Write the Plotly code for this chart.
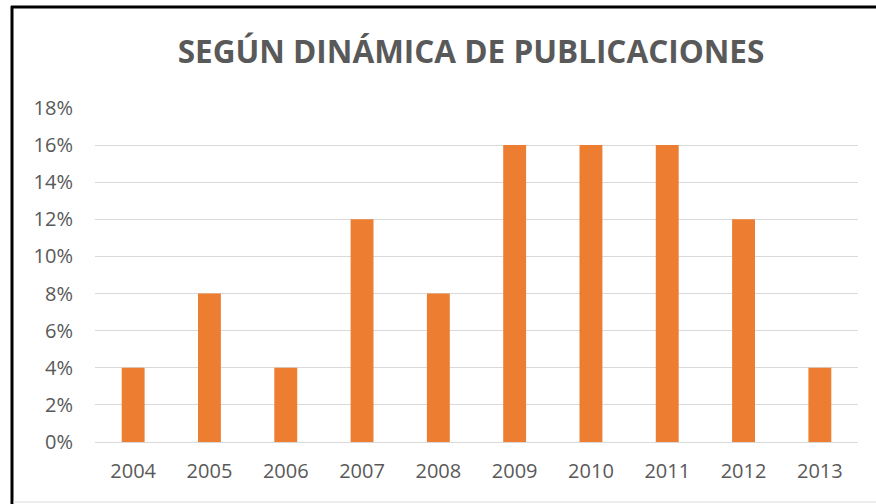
import plotly.graph_objects as go

years = ["2004", "2005", "2006", "2007", "2008", "2009", "2010", "2011", "2012", "2013"]
shares = [0.04, 0.08, 0.04, 0.12, 0.08, 0.16, 0.16, 0.16, 0.12, 0.04]
y_ticks = [0, 0.02, 0.04, 0.06, 0.08, 0.10, 0.12, 0.14, 0.16, 0.18]

W, H = 876, 504
ML, MR, MT, MB = 95, 18, 108, 62
pw, ph = W - ML - MR, H - MT - MB


def px_x(x):
    return (x - ML) / pw


def px_y(y):
    return (H - MB - y) / ph


fig = go.Figure()
fig.add_trace(go.Bar(
    x=years, y=shares,
    marker=dict(color="#ED7D31", line=dict(width=0)),
    width=0.3,
    hoverinfo="x+y",
))

# black frame on left and top, faint one at the bottom
fig.add_shape(type="line", xref="paper", yref="paper",
              x0=px_x(12), x1=px_x(12), y0=px_y(6), y1=px_y(504),
              line=dict(color="black", width=3))
fig.add_shape(type="line", xref="paper", yref="paper",
              x0=px_x(11), x1=px_x(876), y0=px_y(7), y1=px_y(7),
              line=dict(color="black", width=3))
fig.add_shape(type="line", xref="paper", yref="paper",
              x0=px_x(13), x1=px_x(876), y0=px_y(502), y1=px_y(502),
              line=dict(color="#D9D9D9", width=1))

fig.update_layout(
    width=W, height=H,
    margin=dict(l=ML, r=MR, t=MT, b=MB),
    paper_bgcolor="white",
    plot_bgcolor="white",
    showlegend=False,
    title=dict(text="<b>SEGÚN DINÁMICA DE PUBLICACIONES</b>",
               x=471 / W, xanchor="center", y=1 - 52 / H, yanchor="middle",
               font=dict(family="Open Sans", size=31.5, color="#595959")),
    font=dict(family="Open Sans", color="#595959", size=19),
)
fig.update_xaxes(showgrid=False, showline=True, linecolor="#D9D9D9", linewidth=1,
                 ticks="", ticklabelstandoff=11,
                 tickfont=dict(size=20, color="#595959"))
fig.update_yaxes(range=[0, 0.18], tickvals=y_ticks, tickformat=".0%",
                 showgrid=True, gridcolor="#D9D9D9", gridwidth=1,
                 zeroline=False, showline=False, ticks="", ticklen=0,
                 ticklabelstandoff=21,
                 tickfont=dict(size=20, color="#595959"))

fig.write_html("out.html", config={"displayModeBar": False},
               post_script="document.body.style.margin='0';")
